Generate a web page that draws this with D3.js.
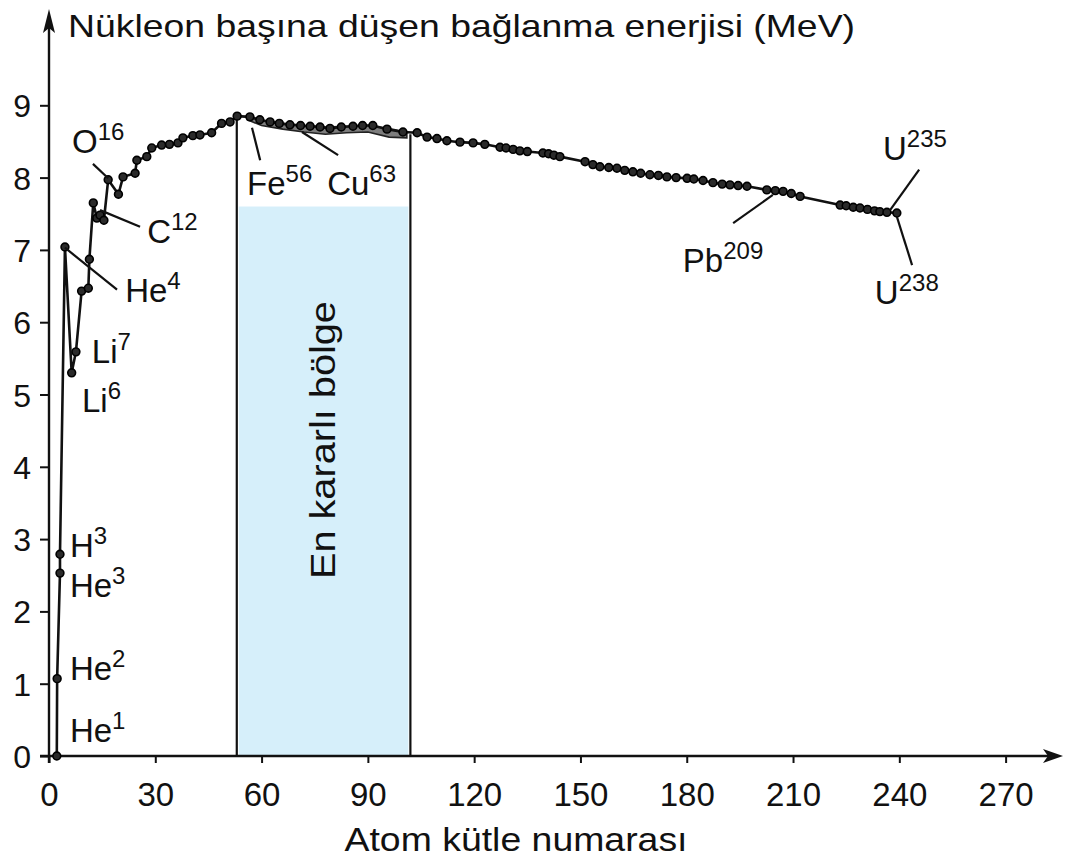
<!DOCTYPE html>
<html><head><meta charset="utf-8">
<script src="https://cdn.jsdelivr.net/npm/d3@7"></script>
<style>
body{margin:0;background:#fff}
svg{display:block}
text{font-family:"Liberation Sans",Arial,Helvetica,sans-serif;fill:#111}
</style>
</head><body>
<svg id="c" width="1069" height="862"></svg>
<script>
// ---- data ----
const massNumbers = [
  2.2, 2.3, 3.1, 3.1, 4.5, 6.4, 7.6, 9.2, 11.1, 11.4, 12.5, 13.5, 14.4, 15.5, 16.7,
  19.6, 20.9, 24.3, 24.8, 27.6, 29.0, 31.8, 34.0, 36.4, 37.8, 40.6, 42.6, 45.9, 48.7, 51.1, 53.1,
  56.7, 59.5, 62.4, 65.0, 68.0, 71.0, 73.7, 76.5, 79.3, 82.5, 85.8, 88.5, 91.4, 95.4, 99.9,
  103.9, 106.7, 109.5, 112.3, 116.0, 119.7, 123.0, 127.3, 129.0, 131.0, 132.9, 135.0, 139.4,
  141.0, 142.5, 144.2, 151.3, 153.5, 155.5, 158.0, 160.3, 162.5, 164.8, 167.0, 169.6, 172.0,
  174.4, 177.0, 180.1, 182.0, 184.6, 187.4, 190.0, 192.2, 194.5, 197.0, 202.6, 205.0, 207.2,
  209.5, 212.0, 223.3, 225.0, 227.0, 228.9, 231.0, 233.0, 234.5, 236.5, 239.3
];
const bindingEnergy = [
  0.00, 1.07, 2.53, 2.79, 7.04, 5.30, 5.59, 6.43, 6.47, 6.87, 7.65, 7.44, 7.48, 7.41, 7.97,
  7.77, 8.01, 8.06, 8.24, 8.29, 8.41, 8.45, 8.46, 8.48, 8.55, 8.58, 8.59, 8.62, 8.75, 8.77, 8.85,
  8.84, 8.80, 8.77, 8.75, 8.73, 8.72, 8.71, 8.70, 8.68, 8.70, 8.71, 8.72, 8.72, 8.67, 8.63,
  8.62, 8.56, 8.54, 8.51, 8.49, 8.48, 8.46, 8.42, 8.41, 8.39, 8.37, 8.36, 8.34,
  8.33, 8.31, 8.29, 8.22, 8.18, 8.15, 8.14, 8.13, 8.10, 8.08, 8.06, 8.04, 8.03,
  8.01, 8.00, 7.99, 7.98, 7.96, 7.93, 7.91, 7.90, 7.89, 7.88, 7.83, 7.82, 7.81,
  7.78, 7.74, 7.62, 7.61, 7.59, 7.58, 7.56, 7.54, 7.53, 7.52, 7.51
];
// grey band under the curve in the Fe–Cu region
const bandMass = [56, 60, 66, 72, 78, 84, 90, 96, 101];
const bandHigh = [8.84, 8.79, 8.75, 8.72, 8.70, 8.71, 8.72, 8.68, 8.63];
const bandLow  = [8.80, 8.72, 8.67, 8.63, 8.60, 8.62, 8.63, 8.56, 8.55];

const xTickValues = [0, 30, 60, 90, 120, 150, 180, 210, 240, 270];
const yTickValues = [0, 1, 2, 3, 4, 5, 6, 7, 8, 9];

const stableRange = [53, 102];     // mass numbers of the "most stable" box
const stableTops = [8.85, 8.60];   // where its edges meet the curve
const stableBlueTop = 7.6;

const isotopeNames = ["O", "C", "He", "Li", "Li", "H", "He", "He", "He", "Fe", "Cu", "Pb", "U", "U"];
const isotopeMasses = ["16", "12", "4", "7", "6", "3", "3", "2", "1", "56", "63", "209", "235", "238"];

const titleY = "Nükleon başına düşen bağlanma enerjisi (MeV)";
const titleX = "Atom kütle numarası";
const regionLabel = "En kararlı bölge";

// ---- layout ----
const svg = d3.select("#c");
const x = d3.scaleLinear().domain([0, 270]).range([49, 49 + 270 * 3.543]);
const y = d3.scaleLinear().domain([0, 9]).range([756, 756 - 9 * 72.3]);

// label anchors (in data units: mass, energy) — layout only
const labelPos = [
  [6.5, 8.34], [27.7, 7.10], [21.5, 6.28], [12.1, 5.44], [9.3, 4.76],
  [5.9, 2.75], [5.9, 2.20], [5.9, 1.05], [5.9, 0.19],
  [55.9, 7.76], [78.5, 7.76], [178.9, 6.69], [235.4, 8.24], [233.1, 6.25]
];
const leaderPos = [
  [12.4, 8.19, 16.7, 7.99], [14.4, 7.55, 25.7, 7.32], [4.5, 7.03, 19.2, 6.45],
  [57.3, 8.69, 59.6, 8.24], [71.4, 8.63, 81.6, 8.31], [204.3, 7.76, 193.1, 7.37],
  [237.4, 7.55, 245.6, 8.11], [239.3, 7.46, 243.6, 6.79]
];

// stable region fill
svg.append("rect")
  .attr("x", x(stableRange[0]) + 2).attr("width", x(stableRange[1]) - x(stableRange[0]) - 4)
  .attr("y", y(stableBlueTop)).attr("height", y(0) - y(stableBlueTop))
  .attr("fill", "#d6effa");

// box edges
stableRange.forEach((m, i) => {
  svg.append("line")
    .attr("x1", x(m)).attr("x2", x(m))
    .attr("y1", y(stableTops[i])).attr("y2", y(0))
    .attr("stroke", "#111").attr("stroke-width", 2.2);
});

svg.append("text")
  .attr("transform", `translate(${x(77.3) + 12},${y(4.37)}) rotate(-90)`)
  .attr("text-anchor", "middle")
  .attr("font-size", 35)
  .attr("textLength", 278).attr("lengthAdjust", "spacingAndGlyphs")
  .text(regionLabel);

// axes
const gx = svg.append("g").attr("transform", `translate(0,${y(0)})`)
  .call(d3.axisBottom(x).tickValues(xTickValues).tickSize(7).tickFormat(d3.format("d")));
gx.select(".domain").remove();
gx.selectAll(".tick line").attr("stroke", "#111").attr("stroke-width", 2);
gx.selectAll(".tick text").attr("y", 50).attr("dy", 0)
  .attr("font-size", 33).attr("font-family", "Liberation Sans, Arial, sans-serif").attr("fill", "#111");

const gy = svg.append("g").attr("transform", `translate(${x(0)},0)`)
  .call(d3.axisLeft(y).tickValues(yTickValues).tickSize(9).tickPadding(9).tickFormat(d3.format("d")));
gy.select(".domain").remove();
gy.selectAll(".tick line").attr("stroke", "#111").attr("stroke-width", 2);
gy.selectAll(".tick text").attr("font-size", 32).attr("dy", "0.36em")
  .attr("font-family", "Liberation Sans, Arial, sans-serif").attr("fill", "#111");

// axis lines with arrows
svg.append("line").attr("x1", 40).attr("x2", 1050).attr("y1", y(0)).attr("y2", y(0))
  .attr("stroke", "#111").attr("stroke-width", 2.4);
svg.append("path")
  .attr("d", `M1063,${y(0)} L1043,${y(0) - 7} L1048,${y(0)} L1043,${y(0) + 7} Z`)
  .attr("fill", "#111");
svg.append("line").attr("x1", x(0)).attr("x2", x(0)).attr("y1", 763).attr("y2", 24)
  .attr("stroke", "#111").attr("stroke-width", 2.4);
svg.append("path")
  .attr("d", `M${x(0)},9 L${x(0) - 6},33 L${x(0)},28 L${x(0) + 6},33 Z`)
  .attr("fill", "#111");

// titles
svg.append("text").attr("x", 68).attr("y", 37).attr("font-size", 32)
  .attr("textLength", 787).attr("lengthAdjust", "spacingAndGlyphs").text(titleY);
svg.append("text").attr("x", 516).attr("y", 851).attr("text-anchor", "middle").attr("font-size", 34)
  .attr("textLength", 343).attr("lengthAdjust", "spacingAndGlyphs").text(titleX);

// grey band
const bandData = bandMass.map((m, i) => ({ m, hi: bandHigh[i], lo: bandLow[i] }));
svg.append("path").datum(bandData)
  .attr("d", d3.area().x(d => x(d.m)).y0(d => y(d.lo)).y1(d => y(d.hi)))
  .attr("fill", "#7d7d7d").attr("stroke", "#222").attr("stroke-width", 1.6);

// curve
const pts = massNumbers.map((m, i) => ({ m, v: bindingEnergy[i] }));
svg.append("path").datum(pts)
  .attr("d", d3.line().x(d => x(d.m)).y(d => y(d.v)))
  .attr("fill", "none").attr("stroke", "#111").attr("stroke-width", 2.6).attr("stroke-linejoin", "round");
svg.append("g").selectAll("circle").data(pts).join("circle")
  .attr("cx", d => x(d.m)).attr("cy", d => y(d.v)).attr("r", 3.9)
  .attr("fill", "#2a2a2a").attr("stroke", "#000").attr("stroke-width", 1.6);

// leader lines
svg.append("g").selectAll("line").data(leaderPos).join("line")
  .attr("x1", d => x(d[0])).attr("y1", d => y(d[1]))
  .attr("x2", d => x(d[2])).attr("y2", d => y(d[3]))
  .attr("stroke", "#111").attr("stroke-width", 2.2);

// isotope labels
isotopeNames.forEach((n, i) => {
  const t = svg.append("text").attr("x", x(labelPos[i][0])).attr("y", y(labelPos[i][1]))
    .attr("font-size", 33);
  t.append("tspan").text(n);
  t.append("tspan").attr("font-size", 24).attr("dy", -13).text(isotopeMasses[i]);
});
</script>
</body></html>
